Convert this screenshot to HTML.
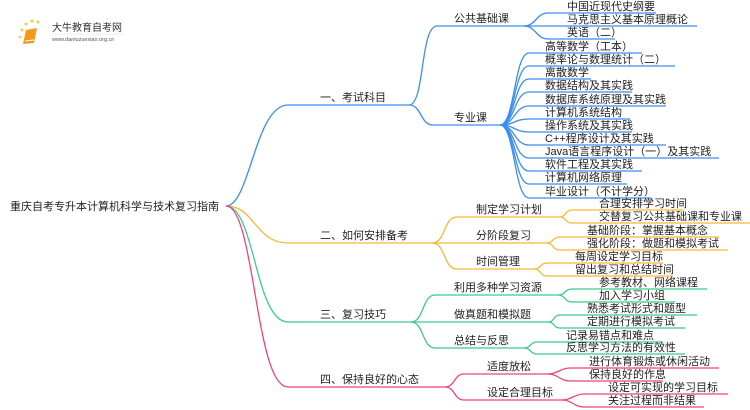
<!DOCTYPE html>
<html><head><meta charset="utf-8"><style>
html,body{margin:0;padding:0;background:#fff;}
svg{display:block;}
text{font-family:"Liberation Sans","Noto Sans CJK SC",sans-serif;font-size:11px;fill:#222;}
.b{stroke:#3b8ff0;fill:none;stroke-width:1.3}
.o{stroke:#f5b935;fill:none;stroke-width:1.3}
.g{stroke:#3ecb8c;fill:none;stroke-width:1.3}
.p{stroke:#f2417c;fill:none;stroke-width:1.3}
</style></head><body>
<svg width="750" height="410" viewBox="0 0 750 410">
<g>
<circle cx="22" cy="30" r="1.5" fill="#f8c94a"/><circle cx="26" cy="24" r="1.5" fill="#f8c94a"/><circle cx="32" cy="21" r="1.6" fill="#f8c94a"/><circle cx="38" cy="22" r="1.5" fill="#f8c94a"/><circle cx="20" cy="37" r="1.3" fill="#f8c94a"/>
<path d="M26 30 L37 28 L34 43 L23 44 Z" fill="#f39a1e"/>
<path d="M25 41 L34 40" stroke="#fff" stroke-width="1"/>
<text x="52" y="31" style="font-size:10px;fill:#333">大牛教育自考网</text>
<line x1="52" y1="34" x2="124" y2="34" stroke="#ddd" stroke-width="0.6"/>
<text x="52" y="41" style="font-size:5.5px;fill:#555">www.daniuzuexiao.org.cn</text>
</g>

<text x="10" y="210">重庆自考专升本计算机科学与技术复习指南</text>

<path class="b" d="M226 206 C250 206 255 105 288 105 H409"/>
<text x="320" y="101">一、考试科目</text>
<path class="b" d="M409 105 C425 105 420 26 437 26 H524"/>
<path class="b" d="M409 105 C422 105 420 125 433 125 H500"/>
<text x="454" y="22">公共基础课</text>
<text x="454" y="121">专业课</text>
<path class="b" d="M524 26 C536 26 536 13 548 13 H656"/>
<path class="b" d="M524 26 H697"/>
<path class="b" d="M524 26 C536 26 536 39 548 39 H615"/>
<text x="567" y="10">中国近现代史纲要</text>
<text x="567" y="23">马克思主义基本原理概论</text>
<text x="567" y="36">英语（二）</text>
<g class="b">
<path d="M500 125 C515 125 514 53 529 53 H642"/>
<path d="M500 125 C515 125 514 66 529 66 H675"/>
<path d="M500 125 C515 125 514 79 529 79 H591"/>
<path d="M500 125 C515 125 514 92 529 92 H632"/>
<path d="M500 125 C515 125 514 106 529 106 H666"/>
<path d="M500 125 C515 125 514 119 529 119 H630"/>
<path d="M500 125 C515 125 514 132 529 132 H632"/>
<path d="M500 125 C515 125 514 145 529 145 H666"/>
<path d="M500 125 C515 125 514 158 529 158 H719"/>
<path d="M500 125 C515 125 514 171 529 171 H642"/>
<path d="M500 125 C515 125 514 184 529 184 H627"/>
<path d="M500 125 C515 125 514 198 529 198 H651"/>
</g>
<text x="545" y="50">高等数学（工本）</text>
<text x="545" y="63">概率论与数理统计（二）</text>
<text x="545" y="76">离散数学</text>
<text x="545" y="89">数据结构及其实践</text>
<text x="545" y="103">数据库系统原理及其实践</text>
<text x="545" y="116">计算机系统结构</text>
<text x="545" y="129">操作系统及其实践</text>
<text x="545" y="142">C++程序设计及其实践</text>
<text x="545" y="155">Java语言程序设计（一）及其实践</text>
<text x="545" y="168">软件工程及其实践</text>
<text x="545" y="181">计算机网络原理</text>
<text x="545" y="195">毕业设计（不计学分）</text>

<path class="o" d="M226 206 C255 206 255 243 288 243 H432"/>
<text x="320" y="239">二、如何安排备考</text>
<path class="o" d="M432 243 C446 243 443 217 457 217 H560"/>
<path class="o" d="M432 243 H546"/>
<path class="o" d="M432 243 C446 243 443 269 457 269 H534"/>
<text x="476" y="213">制定学习计划</text>
<text x="476" y="239">分阶段复习</text>
<text x="476" y="265">时间管理</text>
<path class="o" d="M560 217 C566 217 565 210 572 210 H683"/>
<path class="o" d="M560 217 C566 217 565 223 572 223 H750"/>
<path class="o" d="M546 243 C554 243 552 237 560 237 H719"/>
<path class="o" d="M546 243 C554 243 552 250 560 250 H728"/>
<path class="o" d="M534 269 C541 269 540 263 547 263 H663"/>
<path class="o" d="M534 269 C541 269 540 276 547 276 H673"/>
<text x="599" y="207">合理安排学习时间</text>
<text x="599" y="220">交替复习公共基础课和专业课</text>
<text x="587" y="234">基础阶段：掌握基本概念</text>
<text x="587" y="247">强化阶段：做题和模拟考试</text>
<text x="575" y="260">每周设定学习目标</text>
<text x="575" y="273">留出复习和总结时间</text>

<path class="g" d="M226 206 C255 206 255 322 288 322 H411"/>
<text x="320" y="318">三、复习技巧</text>
<path class="g" d="M411 322 C424 322 422 295 435 295 H558"/>
<path class="g" d="M411 322 H548"/>
<path class="g" d="M411 322 C424 322 422 348 435 348 H524"/>
<text x="454" y="291">利用多种学习资源</text>
<text x="454" y="318">做真题和模拟题</text>
<text x="454" y="344">总结与反思</text>
<path class="g" d="M558 295 C566 295 564 289 572 289 H707"/>
<path class="g" d="M558 295 C566 295 564 302 572 302 H675"/>
<path class="g" d="M548 322 C555 322 553 315 560 315 H697"/>
<path class="g" d="M548 322 C555 322 553 328 560 328 H685"/>
<path class="g" d="M524 348 C531 348 530 342 537 342 H663"/>
<path class="g" d="M524 348 C531 348 530 354 537 354 H685"/>
<text x="599" y="286">参考教材、网络课程</text>
<text x="599" y="299">加入学习小组</text>
<text x="587" y="312">熟悉考试形式和题型</text>
<text x="587" y="325">定期进行模拟考试</text>
<text x="566" y="339">记录易错点和难点</text>
<text x="566" y="351">反思学习方法的有效性</text>

<path class="p" d="M226 206 C255 206 255 387 288 387 H445"/>
<text x="320" y="383">四、保持良好的心态</text>
<path class="p" d="M445 387 C455 387 454 374 464 374 H548"/>
<path class="p" d="M445 387 C455 387 454 400 464 400 H562"/>
<text x="487" y="370">适度放松</text>
<text x="487" y="396">设定合理目标</text>
<path class="p" d="M548 374 C558 374 560 368 570 368 H719"/>
<path class="p" d="M548 374 C558 374 560 381 570 381 H663"/>
<path class="p" d="M562 400 C572 400 574 394 584 394 H728"/>
<path class="p" d="M562 400 C572 400 574 407 584 407 H704"/>
<text x="589" y="365">进行体育锻炼或休闲活动</text>
<text x="589" y="378">保持良好的作息</text>
<text x="608" y="391">设定可实现的学习目标</text>
<text x="608" y="404">关注过程而非结果</text>
</svg>
</body></html>
